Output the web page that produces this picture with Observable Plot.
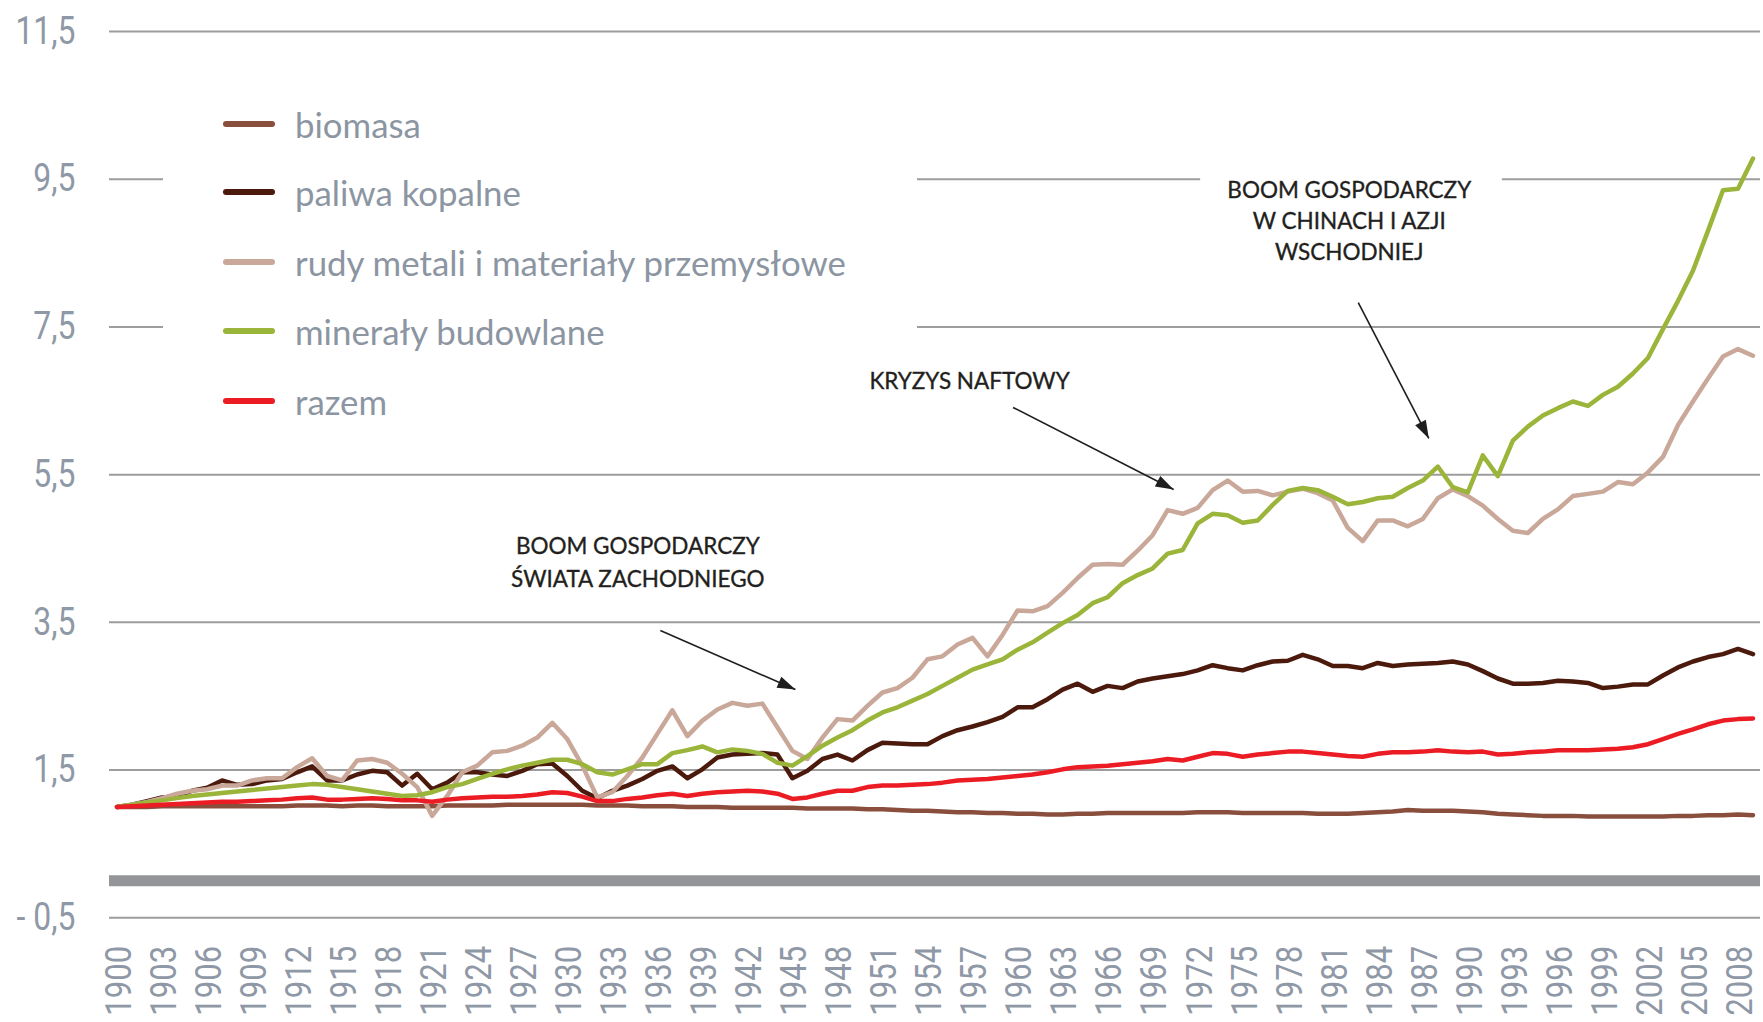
<!DOCTYPE html>
<html><head><meta charset="utf-8">
<script src="https://cdn.jsdelivr.net/npm/d3@7"></script>
<script src="https://cdn.jsdelivr.net/npm/@observablehq/plot@0.6"></script>
<style>
body{margin:0;background:#fff;}
#wrap{position:relative;width:1763px;height:1022px;overflow:hidden;background:#fff}
#legend{position:absolute;left:163px;top:92px;width:754px;height:253px;background:#fff;overflow:visible;font-family:Lato,"Open Sans",sans-serif;}
.row{position:absolute;left:0;height:44px;display:flex;align-items:center}
.sw{width:52px;height:6px;border-radius:3px;margin-left:60px;margin-right:20px}
.lab{font-size:34.8px;color:#8c95a2;white-space:nowrap}
</style></head>
<body><div id="wrap"><div id="chart"></div><div id="legend"></div></div>
<script>
const seriesNames = ["biomasa","paliwa kopalne","rudy metali i materiały przemysłowe","minerały budowlane","razem"];
const seriesColors = ["#8a4e3c","#4b1a0d","#c9a89a","#9ab53a","#ec1c24"];
const firstYear = 1900;

const biomasa = [
1.00,1.00,1.00,1.01,1.01,1.01,1.01,1.01,1.01,1.01,
1.01,1.01,1.02,1.02,1.02,1.01,1.02,1.02,1.01,1.01,
1.01,1.01,1.02,1.02,1.02,1.02,1.03,1.03,1.03,1.03,
1.03,1.03,1.02,1.02,1.02,1.01,1.01,1.01,1.00,1.00,
1.00,0.99,0.99,0.99,0.99,0.99,0.98,0.98,0.98,0.98,
0.97,0.97,0.96,0.95,0.95,0.94,0.93,0.93,0.92,0.92,
0.91,0.91,0.90,0.90,0.91,0.91,0.92,0.92,0.92,0.92,
0.92,0.92,0.93,0.93,0.93,0.92,0.92,0.92,0.92,0.92,
0.91,0.91,0.91,0.92,0.93,0.94,0.96,0.95,0.95,0.95,
0.94,0.93,0.91,0.90,0.89,0.88,0.88,0.88,0.87,0.87,
0.87,0.87,0.87,0.87,0.88,0.88,0.89,0.89,0.90,0.89];

const paliwa = [
1.00,1.03,1.08,1.13,1.14,1.22,1.26,1.36,1.30,1.31,
1.36,1.38,1.47,1.55,1.36,1.36,1.44,1.49,1.47,1.29,
1.45,1.24,1.33,1.47,1.47,1.44,1.42,1.49,1.58,1.59,
1.42,1.22,1.12,1.22,1.29,1.38,1.49,1.55,1.39,1.51,
1.67,1.71,1.72,1.73,1.71,1.39,1.49,1.65,1.71,1.63,
1.77,1.87,1.86,1.85,1.85,1.96,2.04,2.09,2.15,2.22,
2.35,2.35,2.46,2.59,2.67,2.56,2.64,2.61,2.70,2.74,
2.77,2.80,2.85,2.92,2.88,2.85,2.92,2.97,2.98,3.06,
3.00,2.91,2.91,2.88,2.95,2.91,2.93,2.94,2.95,2.97,
2.93,2.84,2.74,2.67,2.67,2.68,2.71,2.70,2.68,2.61,
2.63,2.66,2.66,2.78,2.89,2.97,3.03,3.07,3.14,3.07];

const rudy = [
1.00,1.03,1.07,1.12,1.18,1.22,1.24,1.29,1.29,1.36,
1.39,1.39,1.54,1.66,1.42,1.36,1.63,1.65,1.60,1.45,
1.27,0.88,1.15,1.47,1.56,1.74,1.76,1.83,1.94,2.14,
1.92,1.56,1.13,1.20,1.42,1.67,1.99,2.31,1.96,2.17,
2.32,2.41,2.37,2.40,2.08,1.76,1.65,1.94,2.19,2.17,
2.37,2.55,2.61,2.75,3.00,3.04,3.20,3.29,3.04,3.33,
3.66,3.65,3.72,3.90,4.10,4.28,4.29,4.28,4.47,4.68,
5.02,4.97,5.05,5.29,5.42,5.27,5.28,5.22,5.27,5.31,
5.25,5.15,4.78,4.60,4.88,4.88,4.80,4.90,5.18,5.30,
5.21,5.08,4.90,4.74,4.71,4.90,5.03,5.21,5.24,5.27,
5.40,5.37,5.53,5.74,6.17,6.49,6.80,7.10,7.20,7.11];

const mineraly = [
1.00,1.03,1.06,1.09,1.12,1.15,1.17,1.19,1.21,1.23,
1.25,1.27,1.29,1.31,1.30,1.27,1.24,1.21,1.18,1.15,
1.16,1.20,1.27,1.31,1.38,1.45,1.51,1.56,1.60,1.64,
1.64,1.58,1.47,1.44,1.51,1.58,1.58,1.73,1.77,1.82,
1.74,1.78,1.76,1.72,1.60,1.56,1.69,1.83,1.94,2.04,
2.17,2.28,2.35,2.44,2.53,2.64,2.75,2.86,2.93,3.00,
3.13,3.23,3.36,3.49,3.60,3.76,3.84,4.03,4.14,4.23,
4.43,4.48,4.84,4.97,4.95,4.85,4.88,5.09,5.28,5.32,
5.29,5.20,5.10,5.13,5.18,5.20,5.32,5.42,5.61,5.33,
5.26,5.76,5.48,5.96,6.15,6.30,6.40,6.49,6.43,6.58,
6.69,6.87,7.08,7.47,7.85,8.26,8.80,9.35,9.37,9.78];

const razem = [
1.00,1.01,1.02,1.03,1.04,1.05,1.06,1.07,1.07,1.08,
1.09,1.10,1.12,1.13,1.10,1.10,1.11,1.12,1.11,1.09,
1.09,1.07,1.10,1.12,1.13,1.14,1.14,1.15,1.17,1.20,
1.19,1.14,1.08,1.08,1.11,1.13,1.16,1.18,1.15,1.18,
1.20,1.21,1.22,1.21,1.18,1.11,1.13,1.18,1.22,1.22,
1.27,1.29,1.29,1.30,1.31,1.33,1.36,1.37,1.38,1.40,
1.42,1.44,1.47,1.51,1.54,1.55,1.56,1.58,1.60,1.62,
1.65,1.63,1.68,1.73,1.72,1.68,1.71,1.73,1.75,1.75,
1.73,1.71,1.69,1.68,1.72,1.74,1.74,1.75,1.77,1.75,
1.74,1.75,1.71,1.72,1.74,1.75,1.77,1.77,1.77,1.78,
1.79,1.81,1.85,1.92,1.99,2.05,2.12,2.17,2.19,2.20];

const xTicks = [1900,1903,1906,1909,1912,1915,1918,1921,1924,1927,1930,1933,1936,1939,1942,1945,1948,1951,1954,1957,1960,1963,1966,1969,1972,1975,1978,1981,1984,1987,1990,1993,1996,1999,2002,2005,2008];
const yTicks = [-0.5,1.5,3.5,5.5,7.5,9.5,11.5];
const yTickLabels = ["- 0,5","1,5","3,5","5,5","7,5","9,5","11,5"];

// annotations (position in data units: year, value)
const notes = [
  {text:"BOOM GOSPODARCZY\nŚWIATA ZACHODNIEGO", x:1934.7, y:4.34, lh:1.45},
  {text:"KRYZYS NAFTOWY", x:1956.8, y:6.79, lh:1.4},
  {text:"BOOM GOSPODARCZY\nW CHINACH I AZJI\nWSCHODNIEJ", x:1982.1, y:8.96, lh:1.37}
];
const arrows = [
  {x1:1936.2, y1:3.39, x2:1945.2, y2:2.59},
  {x1:1959.7, y1:6.41, x2:1970.4, y2:5.30},
  {x1:1982.7, y1:7.83, x2:1987.4, y2:5.99}
];
const noteMask = [{x1:1972.2, x2:1992.3, y1:8.2, y2:9.9}];

const allSeries = [biomasa, paliwa, rudy, mineraly, razem];
const rows = [];
allSeries.forEach((vals, s) => vals.forEach((v, i) => rows.push({year: firstYear + i, value: v, series: seriesNames[s]})));

const W = 1763, H = 1022, mL = 109, mR = 3, mT = 31, mB = 104.7;
const xDomain = [1899.5, 2009.5], yDomain = [-0.5, 11.5];
const sx = d3.scaleLinear(xDomain, [mL, W - mR]);
const sy = d3.scaleLinear(yDomain, [H - mB, mT]);
arrows.forEach(a => {
  const dx = sx(a.x2) - sx(a.x1), dy = sy(a.y2) - sy(a.y1);
  a.angle = Math.atan2(dx, -dy) * 180 / Math.PI;
});

const axisFont = 'Roboto,sans-serif';
const tickColor = "#8f98a6";
const noteFont = 'Lato,"Open Sans",sans-serif';

const chart = Plot.plot({
  width: W, height: H,
  marginLeft: mL, marginRight: mR, marginTop: mT, marginBottom: mB,
  style: {background: "#fff", color: tickColor, fontFamily: axisFont},
  x: {domain: xDomain},
  y: {domain: yDomain},
  color: {domain: seriesNames, range: seriesColors},
  marks: [
    Plot.ruleY(yTicks, {stroke: "#9d9d9d", strokeWidth: 2}),
    Plot.ruleY([0], {stroke: "#939598", strokeWidth: 11}),
    Plot.rect(noteMask, {x1: "x1", x2: "x2", y1: "y1", y2: "y2", fill: "#fff"}),
    Plot.line(rows, {x: "year", y: "value", z: "series", stroke: "series", strokeWidth: 4.5, strokeLinejoin: "round", strokeLinecap: "round"}),
    Plot.axisY({ticks: yTicks, tickFormat: (d) => yTickLabels[yTicks.indexOf(d)], tickSize: 0, tickPadding: 34, fontSize: 38, fill: tickColor}),
    Plot.axisX({ticks: xTicks, tickFormat: (d) => String(d), tickRotate: -90, tickSize: 0, tickPadding: 28, fontSize: 37, fill: tickColor, dx: 2}),
    Plot.link(arrows, {x1: "x1", y1: "y1", x2: "x2", y2: "y2", stroke: "#1e1e1e", strokeWidth: 1.6}),
    Plot.vector(arrows, {x: "x2", y: "y2", rotate: "angle", length: 18, r: 6, shape: "spike", anchor: "end", fill: "#1e1e1e", stroke: "none"}),
    ...notes.map(n => Plot.text([n], {x: "x", y: "y", text: "text", fontSize: 22.5, lineHeight: n.lh, fill: "#231f20", stroke: "#231f20", strokeWidth: 0.35, fontFamily: noteFont}))
  ]
});
// condense the axis tick labels along their reading direction (narrow typeface look)
chart.querySelectorAll('g[aria-label$="tick label"] text').forEach(t => {
  const tr = t.getAttribute("transform");
  if (tr && tr.includes("translate")) {
    t.setAttribute("transform", tr + " scale(0.84,1)");
  } else {
    const x = +(t.getAttribute("x") || 0), y = +(t.getAttribute("y") || 0);
    t.removeAttribute("x"); t.removeAttribute("y");
    t.setAttribute("transform", `translate(${x},${y})${tr ? " " + tr : ""} scale(0.84,1)`);
  }
});
document.getElementById("chart").appendChild(chart);

// legend
const lg = document.getElementById("legend");
const centers = [32, 100, 170, 239, 309];
seriesNames.forEach((name, i) => {
  const r = document.createElement("div");
  r.className = "row";
  r.style.top = (centers[i] - 22) + "px";
  r.innerHTML = `<div class="sw" style="background:${seriesColors[i]}"></div><div class="lab">${name}</div>`;
  lg.appendChild(r);
});
</script></body></html>
